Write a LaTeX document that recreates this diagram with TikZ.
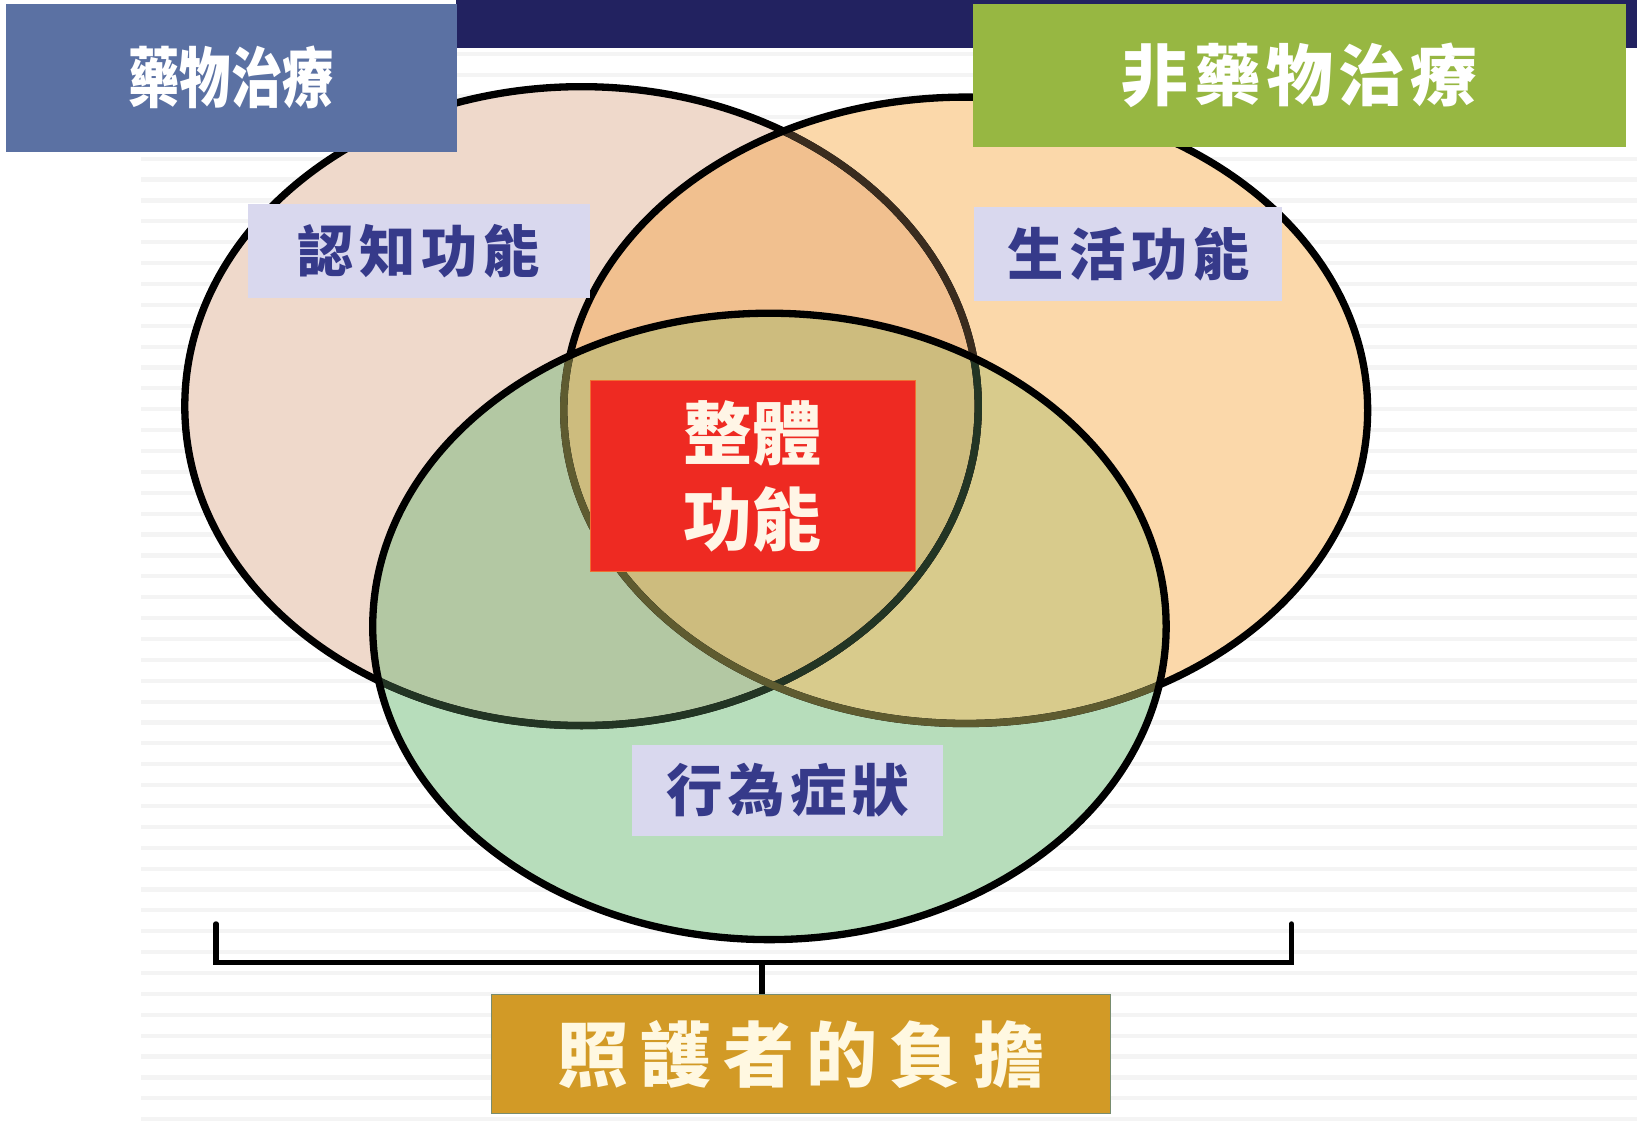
\documentclass[tikz,border=0pt]{standalone}
\usepackage{fontspec}
\usepackage{graphicx}
\newfontfamily\cjk{Noto Sans CJK TC}
\definecolor{navy}{HTML}{222260}
\definecolor{bluebox}{HTML}{5B71A3}
\definecolor{greenbox}{HTML}{97B742}
\definecolor{cA}{HTML}{EFD9CB}
\definecolor{cB}{HTML}{FBD8AA}
\definecolor{cC}{HTML}{B7DDBB}
\definecolor{cAB}{HTML}{F1C08F}
\definecolor{cAC}{HTML}{B3C8A3}
\definecolor{cBC}{HTML}{D8CB8C}
\definecolor{cABC}{HTML}{CDBC7E}
\definecolor{lav}{HTML}{D9D8EE}
\definecolor{labtext}{HTML}{363A8A}
\definecolor{redbox}{HTML}{EE2A22}
\definecolor{ochre}{HTML}{D29A26}
\definecolor{stripe}{HTML}{F4F4F4}
\tikzset{
  ring/.style={line width=3.5pt},
  topbox/.style={inner sep=0pt, text=white, font=\cjk\bfseries\fontsize{27}{30}\selectfont},
  labbox/.style={fill=lav, inner sep=0pt, text=labtext, font=\cjk\bfseries\fontsize{27}{30}\selectfont},
  brace/.style={line width=2.6pt, line cap=round, line join=miter}
}
\begin{document}
\begin{tikzpicture}[x=0.5pt,y=-0.5pt]
\useasboundingbox (0,0) rectangle (1568,1073);
\fill[white] (0,0) rectangle (1568,1073);
% stripes
\foreach \yy in {150,170,...,1070} \fill[stripe] (135,\yy) rectangle (1568,\yy+4);
\foreach \yy in {50,70,...,140} \fill[stripe] (437,\yy) rectangle (932,\yy+4);
% navy bar
\fill[navy] (437,0) rectangle (1568,46);
% ellipse fills
\def\EA{(557,389) ellipse [x radius=380, y radius=306]}
\def\EB{(925,393) ellipse [x radius=385, y radius=300]}
\def\EC{(737,600) ellipse [x radius=380, y radius=300]}
\fill[cA] \EA;
\fill[cB] \EB;
\fill[cC] \EC;
\begin{scope}\clip \EA; \fill[cAB] \EB; \end{scope}
\begin{scope}\clip \EA; \fill[cAC] \EC; \end{scope}
\begin{scope}\clip \EB; \fill[cBC] \EC; \end{scope}
\begin{scope}\clip \EA; \clip \EB; \fill[cABC] \EC; \end{scope}
% outlines
\draw[ring] \EA;
\begin{scope}\clip \EB; \draw[ring, color={rgb,255:red,58;green,44;blue,30}] \EA; \end{scope}
\draw[ring] \EB;
\begin{scope}\clip \EC;
  \draw[ring, color={rgb,255:red,35;green,53;blue,36}] \EA;
  \draw[ring, color={rgb,255:red,94;green,91;blue,48}] \EB;
\end{scope}
\draw[ring] \EC;
% top boxes
\node[topbox, fill=bluebox, minimum width=432pt*0.5, minimum height=142pt*0.5, anchor=north west] (drug) at (5,3) {\scalebox{0.82}[1.05]{\fontsize{30}{32}\selectfont 藥物治療}};
\node[topbox, fill=greenbox, minimum width=625pt*0.5, minimum height=137pt*0.5, anchor=north west, font=\cjk\bfseries\fontsize{32}{34}\selectfont] (nondrug) at (932,3) {\addfontfeature{LetterSpace=8}非藥物治療\hspace{-0.08em}};
% labels
\node[labbox, minimum width=328pt*0.5, minimum height=90pt*0.5, anchor=north west] (cog) at (237,195) {\addfontfeature{LetterSpace=10}認知功能\hspace{-0.1em}};
\node[labbox, minimum width=295pt*0.5, minimum height=90pt*0.5, anchor=north west] (life) at (933,198) {\addfontfeature{LetterSpace=10}生活功能\hspace{-0.1em}};
\node[labbox, minimum width=298pt*0.5, minimum height=87pt*0.5, anchor=north west] (beh) at (605,713) {\addfontfeature{LetterSpace=10}行為症狀\hspace{-0.1em}};
% center
\node[fill=redbox, draw={rgb,255:red,240;green,110;blue,50}, line width=0.6pt, minimum width=311pt*0.5, minimum height=183pt*0.5, anchor=north west, inner sep=0pt] (whole) at (565,364) {};
\node[text={rgb,255:red,255;green,245;blue,230}, font=\cjk\bfseries\fontsize{33}{41}\selectfont, align=center, inner sep=0pt] (wholetext) at (whole.center) {整體\\功能};
% bracket
\coordinate (bl) at (207,885);
\coordinate (blc) at (207,922);
\coordinate (brc) at (1237,922);
\coordinate (br) at (1237,885);
\coordinate (bm) at (730,922);
\draw[brace] (bl) -- (blc) -- (brc) -- (br);
% bottom box
\node[fill=ochre, draw={rgb,255:red,120;green,140;blue,110}, line width=0.6pt, minimum width=593pt*0.5, minimum height=114pt*0.5, anchor=north west, inner sep=0pt, text={rgb,255:red,255;green,248;blue,225}, font=\cjk\bfseries\fontsize{34}{36}\selectfont] (burden) at (470,952) {\addfontfeature{LetterSpace=17}照護者的負擔\hspace{-0.17em}};
\draw[brace, line cap=butt] (bm) -- (bm |- burden.north);
\end{tikzpicture}
\end{document}
